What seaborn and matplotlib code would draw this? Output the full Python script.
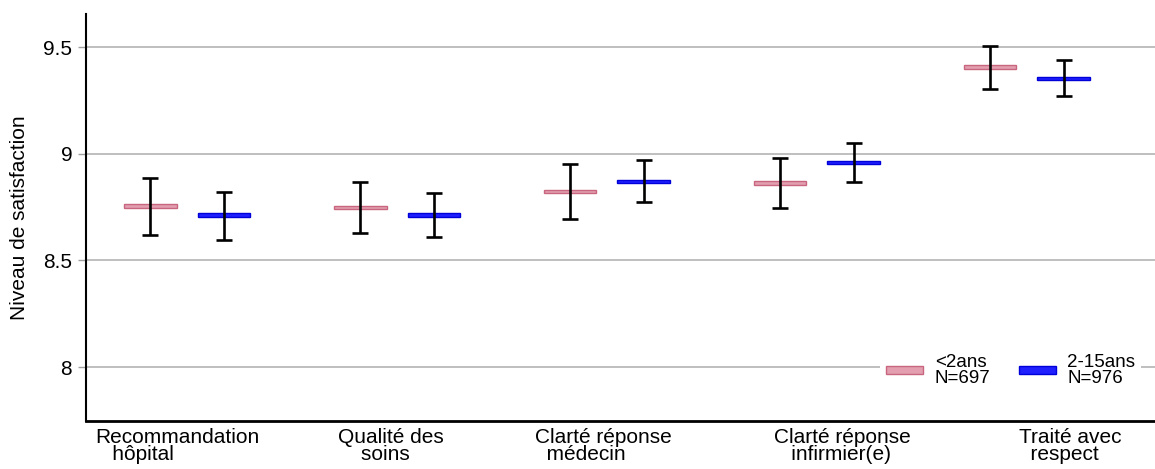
import numpy as np
import matplotlib
matplotlib.use("Agg")
import matplotlib.pyplot as plt
import seaborn as sns

# categories (x labels), legend groups
categories = ["Recommandation\n   hôpital", "Qualité des\n    soins",
              "Clarté réponse\n  médecin", "Clarté réponse\n   infirmier(e)",
              "Traité avec\n  respect"]
groups = ["<2ans\nN=697", "2-15ans\nN=976"]

# <2ans : mean and confidence interval
mean_young = [8.755, 8.748, 8.823, 8.862, 9.405]
low_young = [8.619, 8.628, 8.694, 8.745, 9.306]
high_young = [8.886, 8.866, 8.951, 8.980, 9.505]

# 2-15ans : mean and confidence interval
mean_old = [8.712, 8.712, 8.870, 8.959, 9.353]
low_old = [8.597, 8.609, 8.773, 8.869, 9.270]
high_old = [8.822, 8.814, 8.970, 9.051, 9.439]

label_pos = [0.952, 1.971, 2.981, 4.119, 5.205]

sns.set_theme(style="white")
plt.rcParams['font.family'] = ['Liberation Sans', 'DejaVu Sans']
plt.rcParams['text.color'] = 'black'
plt.rcParams['axes.labelcolor'] = 'black'
plt.rcParams['xtick.color'] = 'black'
plt.rcParams['ytick.color'] = 'black'

fig = plt.figure(figsize=(11.55, 4.69), dpi=100)
ax = fig.add_axes([0.0745, 0.1023, 0.9255, 0.8677])

x = np.arange(1, len(categories) + 1)
off = 0.176
w = 0.252
h = 0.018

ax.grid(axis='y', color='#b4b4b4', linewidth=1.2)
ax.set_axisbelow(True)

b1 = ax.bar(x - off, h, width=w, bottom=np.array(mean_young) - h / 2,
            color='#e39fb0', edgecolor='#c8667f', linewidth=1, zorder=2)
b2 = ax.bar(x + off, h, width=w, bottom=np.array(mean_old) - h / 2,
            color='#2020ff', edgecolor='#0000d8', linewidth=1, zorder=2)

for pos, m, lo, hi in [(x - off, mean_young, low_young, high_young),
                       (x + off, mean_old, low_old, high_old)]:
    m = np.array(m)
    yerr = [m - np.array(lo), np.array(hi) - m]
    ax.errorbar(pos, m, yerr=yerr, fmt='none', ecolor='black',
                elinewidth=1.9, capsize=6, capthick=1.9, zorder=3)

ax.set_xlim(0.519, 5.61)
ax.set_ylim(7.747, 9.655)
ax.set_yticks([8, 8.5, 9, 9.5])
ax.set_yticklabels(['8', '8.5', '9', '9.5'], fontsize=15)
ax.set_xticks(label_pos)
ax.set_xticklabels(categories, fontsize=15, ha='center', multialignment='left',
                   linespacing=0.88)
ax.tick_params(axis='x', length=0, pad=5)
ax.tick_params(axis='y', length=6, width=1, color='#a0a0a0', pad=4, left=True,
               labelcolor='black')
ax.set_ylabel('Niveau de satisfaction', fontsize=15, labelpad=10)

sns.despine(ax=ax, top=True, right=True)
ax.spines['left'].set_color('black')
ax.spines['left'].set_linewidth(1.5)
ax.spines['bottom'].set_color('black')
ax.spines['bottom'].set_linewidth(2)

leg = ax.legend(handles=[b1, b2], labels=groups, ncol=2, loc='center left',
                bbox_to_anchor=(0.743, 0.125), frameon=True, facecolor='white',
                edgecolor='none', framealpha=1, fontsize=13.5, handlelength=2.0,
                handleheight=0.3, handletextpad=0.6, columnspacing=1.5,
                borderpad=0.3, borderaxespad=0)
for t in leg.get_texts():
    t.set_linespacing(0.9)

fig.savefig('out.png', dpi=100)
